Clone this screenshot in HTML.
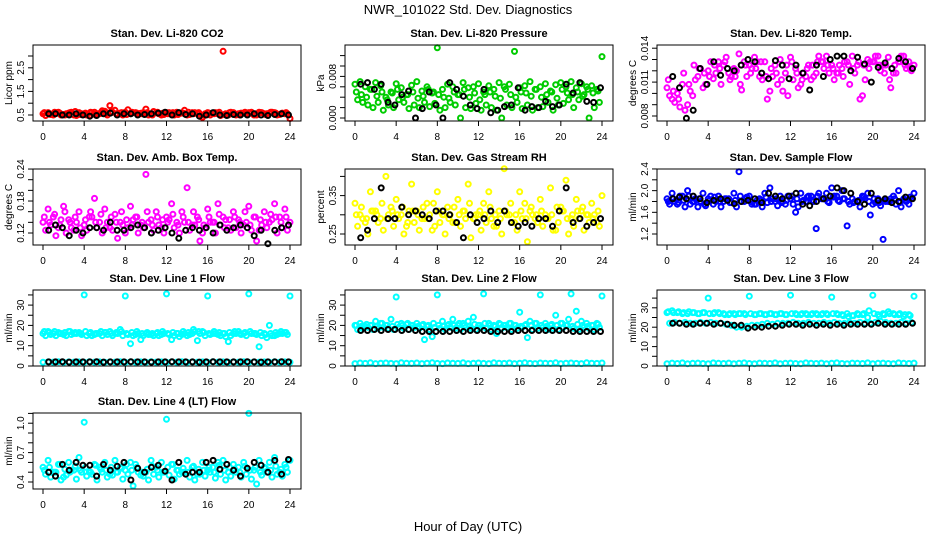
<!DOCTYPE html>
<html><head><meta charset="utf-8"><style>
body{margin:0;background:#fff;}
svg text{font-family:"Liberation Sans",sans-serif;}
</style></head><body>
<svg id="chart" width="936" height="540" viewBox="0 0 936 540" xmlns="http://www.w3.org/2000/svg">
<rect x="0" y="0" width="936" height="540" fill="#fff"/>
<text x="468" y="14" font-size="13" text-anchor="middle">NWR_101022  Std. Dev. Diagnostics</text>
<text x="468" y="531" font-size="13" text-anchor="middle">Hour of Day (UTC)</text>
</svg>
<script>
// ---- data (time derived from index) ----
const xTicks = [0,4,8,12,16,20,24];

const co2A = [0.55,0.6,0.5,0.62,0.52,0.58,0.5,0.6,0.55,0.48,0.62,0.55,0.66,0.9,0.7,0.58,0.62,0.55,0.6,0.57,0.75,0.52,0.6,0.5,0.6,0.55,0.62,0.58,0.5,0.6,0.55,0.4,0.6,0.58,0.55,3.2,0.5,0.6,0.55,0.58,0.6,0.5,0.62,0.55,0.58,0.6,0.52,0.55,0.35];
const co2B = [0.48,0.52,0.6,0.5,0.55,0.62,0.48,0.55,0.5,0.6,0.55,0.68,0.5,0.62,0.55,0.5,0.72,0.6,0.52,0.6,0.5,0.65,0.55,0.52,0.6,0.5,0.58,0.7,0.52,0.6,0.45,0.55,0.5,0.6,0.48,0.55,0.62,0.5,0.58,0.55,0.62,0.5,0.6,0.55,0.62,0.5,0.58,0.55];
const co2C = [0.6,0.55,0.62,0.58,0.5,0.6,0.65,0.52,0.58,0.62,0.5,0.6,0.57,0.64,0.55,0.6,0.52,0.62,0.58,0.55,0.6,0.5,0.62,0.57,0.55,0.6,0.52,0.58,0.62,0.55,0.6,0.5,0.58,0.55,0.62,0.52,0.6,0.55,0.5,0.62,0.58,0.55,0.6,0.52,0.62,0.58,0.55,0.6];
const co2K = [0.55,0.55,0.5,0.5,0.55,0.5,0.45,0.48,0.55,0.58,0.5,0.55,0.55,0.5,0.52,0.55,0.58,0.62,0.5,0.6,0.52,0.55,0.45,0.5,0.6,0.5,0.48,0.52,0.5,0.5,0.55,0.5,0.48,0.52,0.55,0.5];

const presA = [.0065,.007,.006,.0055,.0068,.0062,.004,.005,.0066,.0058,.0045,.0063,.007,.0052,.006,.0048,.0135,.0055,.0065,.006,.0045,.0068,.0058,.006,.0066,.005,.0062,.0055,.0068,.006,.0065,.0128,.0058,.0062,.007,.0055,.006,.0066,.0052,.0064,.0068,.006,.007,.0058,.0066,.006,.0062,.0055,.0118];
const presB = [.0035,.003,.0025,.002,.003,.0015,.0025,.002,.0035,.003,.0018,.0025,.002,.003,.0022,.0028,.0015,.002,.003,.0025,0,.002,.0018,.0028,.0015,.0025,.002,.0015,0,.0025,.002,.003,.0018,.0025,.0015,.002,.0022,.003,.0015,.0025,.0028,.0035,.002,.0035,.0045,0,.002,.003];
const presC = [.005,.0045,.004,.0055,.0042,.005,.0035,.0048,.0055,.004,.0045,.005,.0038,.0042,.0055,.005,.0045,.004,.0038,.005,.0045,.0055,.004,.0048,.0035,.0045,.005,.0042,.0038,.0055,.0045,.004,.005,.0048,.0042,.0055,.004,.0045,.005,.0038,.0055,.0048,.0045,.005,.0042,.0055,.0048,.0052];
const presK = [.0065,.0068,.0055,.0065,.003,.0025,.0045,.0052,0,.0018,.005,.0025,0,.0068,.0055,.0042,.0025,.0018,.0055,.001,.0015,.0022,.0025,.0058,.0015,.0022,.002,.0032,.0022,.0025,.0065,.0048,.0068,.0032,.003,.0058];

const tempA = [.0105,.0095,.01,.0108,.009,.0098,.0115,.0105,.012,.0113,.0128,.0125,.0118,.0122,.0135,.0128,.0125,.0132,.0115,.0128,.0102,.0125,.013,.0118,.0132,.0122,.0108,.0115,.0112,.0118,.0128,.0133,.0125,.0118,.0122,.0128,.0133,.0125,.0098,.013,.0128,.0133,.0125,.0132,.0118,.0128,.0133,.0128,.0125];
const tempB = [.0098,.0092,.0088,.0085,.0102,.0112,.0122,.0108,.0128,.0118,.0108,.0132,.0115,.012,.0103,.0115,.0122,.0128,.0112,.0095,.0115,.0108,.0102,.0098,.0112,.0105,.0118,.0125,.0115,.0133,.0122,.0118,.0112,.0125,.0128,.0108,.0118,.0095,.0112,.0128,.0133,.012,.0125,.0105,.0118,.0133,.0122,.012];
const tempC = [.0112,.0102,.0095,.0118,.0108,.0125,.0122,.0118,.0115,.0125,.0122,.0128,.0112,.0115,.0108,.0125,.0118,.0122,.0128,.0115,.0122,.0118,.0112,.0125,.0128,.0118,.0112,.0122,.0125,.0128,.0128,.0125,.0122,.0118,.0115,.0125,.0122,.0128,.0125,.0122,.0128,.0125,.0118,.0112,.0125,.0128,.0125,.0122];
const tempK = [.0115,.0105,.0078,.0085,.0122,.0108,.0128,.0116,.0122,.012,.0125,.013,.0128,.0118,.0113,.0129,.0125,.0113,.0125,.0118,.0103,.0125,.0115,.013,.0133,.0133,.012,.0132,.0126,.011,.0123,.0127,.0122,.0131,.0128,.0122];

const boxA = [.14,.165,.15,.13,.17,.145,.125,.16,.135,.15,.185,.14,.165,.13,.155,.14,.12,.17,.15,.135,.23,.145,.16,.13,.15,.175,.14,.16,.205,.135,.15,.12,.165,.14,.175,.15,.13,.16,.145,.135,.17,.15,.125,.16,.14,.175,.15,.165,.14];
const boxB = [.125,.135,.115,.145,.12,.13,.14,.115,.125,.15,.13,.12,.14,.125,.11,.135,.13,.145,.12,.13,.14,.125,.135,.12,.145,.13,.12,.14,.125,.135,.105,.13,.14,.12,.135,.145,.125,.13,.12,.14,.125,.105,.135,.13,.145,.12,.13,.125];
const boxC = [.15,.14,.155,.135,.16,.14,.15,.13,.145,.16,.14,.155,.13,.15,.14,.16,.145,.135,.15,.14,.16,.135,.15,.145,.14,.155,.135,.15,.14,.16,.145,.135,.15,.14,.155,.13,.145,.15,.14,.16,.135,.15,.145,.14,.155,.15,.14,.15];
const boxK = [.125,.135,.13,.115,.125,.12,.13,.13,.125,.14,.125,.125,.13,.135,.13,.12,.125,.13,.12,.11,.125,.13,.125,.13,.12,.135,.125,.13,.135,.13,.115,.125,.1,.125,.13,.135];

const rhA = [.33,.3,.28,.36,.31,.29,.4,.32,.34,.3,.27,.38,.31,.29,.33,.26,.36,.3,.32,.28,.34,.31,.38,.29,.3,.33,.36,.27,.31,.42,.3,.28,.36,.33,.31,.29,.34,.3,.37,.26,.32,.39,.29,.34,.31,.3,.33,.28,.35];
const rhB = [.27,.29,.25,.31,.28,.26,.3,.27,.29,.25,.31,.28,.26,.29,.3,.27,.28,.25,.3,.28,.27,.29,.24,.3,.26,.28,.29,.27,.25,.3,.28,.26,.29,.23,.3,.28,.27,.29,.26,.28,.31,.25,.27,.29,.26,.28,.3,.27];
const rhC = [.3,.32,.29,.31,.3,.33,.29,.31,.3,.32,.28,.31,.3,.32,.29,.33,.31,.3,.29,.32,.3,.31,.33,.29,.31,.3,.32,.3,.29,.31,.33,.3,.31,.29,.32,.3,.31,.29,.3,.32,.31,.29,.3,.31,.32,.3,.29,.31];
const rhK = [.24,.26,.29,.37,.29,.29,.32,.3,.31,.3,.29,.31,.31,.3,.28,.24,.3,.28,.29,.31,.28,.31,.28,.27,.28,.27,.29,.29,.27,.31,.37,.28,.29,.27,.28,.29];

const flowA = [1.85,1.95,1.75,1.9,2.0,1.8,1.7,1.95,1.85,1.75,1.9,1.8,1.85,1.95,2.35,1.8,1.9,1.75,1.85,1.95,2.05,1.8,1.9,1.75,1.85,1.6,1.95,1.8,1.9,1.3,1.85,1.95,2.05,1.9,2.0,1.35,1.85,1.8,1.9,1.95,1.75,1.85,1.1,1.8,1.9,2.0,1.85,1.75,1.95];
const flowB = [1.75,1.8,1.9,1.7,1.75,1.85,1.8,1.72,1.9,1.8,1.7,1.85,1.78,1.7,1.8,1.88,1.75,1.82,1.7,1.78,1.85,1.72,1.8,1.9,1.75,1.7,1.82,1.9,1.8,1.95,1.85,1.78,1.9,1.8,1.85,1.75,1.8,1.7,1.85,1.55,1.78,1.72,1.8,1.85,1.75,1.7,1.8,1.85];
const flowC = [1.8,1.85,1.78,1.82,1.9,1.8,1.85,1.75,1.82,1.88,1.8,1.85,1.78,1.82,1.9,1.85,1.8,1.75,1.82,1.88,1.8,1.85,1.78,1.82,1.9,1.85,1.8,1.88,1.82,1.9,1.85,1.8,1.88,1.82,1.85,1.8,1.78,1.82,1.88,1.8,1.85,1.78,1.82,1.8,1.85,1.78,1.82,1.88];
const flowK = [1.85,1.88,1.85,1.9,1.85,1.78,1.82,1.85,1.82,1.76,1.8,1.82,1.85,1.78,1.95,1.9,1.85,1.9,1.95,1.75,1.72,1.8,1.85,1.9,2.05,2.0,1.95,1.8,1.75,1.95,1.82,1.85,1.78,1.8,1.88,1.85];

const l1A = [16,17,16,16.5,15.5,17,16,16.5,35,16,15.5,16,16.5,17,16,18,34.5,11,15.5,13,16,15.5,16,15.5,35.5,13,16,15.5,15,16,12.5,17,34.5,16,15.5,16,12,16,17,16,35.5,16,9.5,16,20,15,16,16.5,34.5];
const l1B = [15,15.5,15,16,15,15.5,16,15.5,15,15,16,15,15.5,15,16,15,15.5,15,16,15,15.5,15,15,16,15.5,15,14.5,16,15.5,17,16,15,15.5,16,15,14.5,15,16,15.5,15,16,15.5,15,14,15,15.5,16,15.5];
const l1C = [17,16.5,17,16,16.5,17,16.5,16,17,16.5,16,17,16.5,16,16.5,17,16,16.5,17,16,16.5,16,16.5,17,16,16.5,16,17,16.5,18,17,16.5,16,17,16.5,16,16.5,17,16,16.5,17,16,16.5,15.5,16,16.5,17,16.5];
const l1L = [1.8,2,1.9,2.1,1.8,2,1.9,2,1.8,2.1,1.9,2,1.8,2,1.9,2.1,1.8,2,1.9,2,1.8,2.1,1.9,2,1.8,2,1.9,2.1,1.8,2,1.9,2,1.8,2.1,1.9,2,1.8,2,1.9,2.1,1.8,2,1.9,2,1.8,2.1,1.9,2,1.8];
const l1K = [2,2,2.1,1.9,2,2,2,2.1,1.9,2,2,2,2.1,2,2,1.9,2,2,2.1,2,2,2,1.9,2,2.1,2,2,2,2,2.1,2,1.9,2,2,2.1,2];

const l2A = [20,21,19.5,20,22,21,20,23,34,21,20.5,20,21,20,19.5,14.5,35,22,20,23,20,21,22,24,20,35.5,21,20,21,20,21,20,26.5,20,22,21,35,21,20,25,21,20,35.5,27,22,21,20,21,34.5];
const l2B = [18,18.5,19,18,18.5,19,18.5,18,19,18.5,18,19,18.5,13,18,19,18.5,18,19,18.5,18,19,18.5,18,19,18.5,18,16,18.5,19,18,18.5,19,14,18,18.5,19,18,18.5,18,19,23,18.5,18,19,18.5,18,19];
const l2C = [20,19.5,20.5,20,19.5,21,20,19.5,20.5,20,21,20,19.5,20.5,20,21,20,19.5,20.5,20,21,20,19.5,20.5,20,21,20,19.5,20.5,20,21,20,19.5,20.5,20,21,20,19.5,20.5,20,21,20,19.5,20.5,20,19.5,20,20.5];
const l2L = [1.2,1.5,1.3,1.6,1.2,1.4,1.5,1.3,1.2,1.6,1.4,1.3,1.5,1.2,1.4,1.6,1.3,1.2,1.5,1.4,1.3,1.6,1.2,1.4,1.5,1.3,1.2,1.6,1.4,1.3,1.5,1.2,1.4,1.6,1.3,1.2,1.5,1.4,1.3,1.6,1.2,1.4,1.5,1.3,1.2,1.6,1.4,1.3,1.5];
const l2K = [17.5,17.5,18,17.5,18,18,17.5,18,17.5,17,17,17,17,17,17.5,17,17.5,17.5,17.5,17,17,17,17,17.5,17.5,17.5,17.5,17.5,17.5,17.5,17.5,17,17,17,17,17];

const l3A = [27.5,28.5,27.5,27,27,27.5,27,27.5,35,27,27.5,27,26.5,27,27,27,36,26.5,27,26.5,27,26.5,27,26.5,36.5,27,26.5,27,26.5,27,26.5,27,35.5,27,26.5,27,26,27,26.5,25,36.5,26.5,27,28,27,26.5,25.5,26.5,36];
const l3B = [22,22.5,22,22.5,22,22,22.5,22,22.5,22,22,21.5,21,20,20,20.5,21,21,21.5,22,21.5,22,22,22,22.5,22,22,22.5,22,22,22.5,22,22.5,22,22,22.5,22,22.5,22,22,22.5,23,22.5,22,22,22.5,22,22.5];
const l3C = [28,27.5,28,27.5,28,27.5,27,27.5,27,27.5,27,26.5,27,26.5,27,26.5,27,26.5,27,26.5,27,26.5,27,26.5,27,26.5,27,26.5,27,26.5,27,26.5,27,26.5,26,25.5,26,26.5,27,28.5,27,25.5,26.5,27,26.5,27,26.5,26];
const l3L = [1.2,1.5,1.3,1.6,1.2,1.4,1.5,1.3,1.2,1.6,1.4,1.3,1.5,1.2,1.4,1.6,1.3,1.2,1.5,1.4,1.3,1.6,1.2,1.4,1.5,1.3,1.2,1.6,1.4,1.3,1.5,1.2,1.4,1.6,1.3,1.2,1.5,1.4,1.3,1.6,1.2,1.4,1.5,1.3,1.2,1.6,1.4,1.3,1.5];
const l3K = [22,22,21.5,21.5,22,22,21.5,22,21.5,21,21,19.5,20,20,20.5,20.5,21,21.5,21.5,21,21.5,21,21.5,21,21.5,21,21.5,21.5,21.5,21.5,22,21.5,21.5,21.5,21.5,22];

const l4A = [.55,.62,.5,.58,.45,.6,.52,.65,1.01,.5,.58,.55,.6,.48,.62,.55,.52,.6,.58,.47,.5,.62,.55,.6,1.04,.58,.52,.5,.62,.55,.48,.6,.52,.55,.6,.62,.5,.58,.55,.6,1.1,.52,.62,.55,.6,.65,.5,.58,.62];
const l4B = [.48,.45,.5,.42,.47,.52,.43,.5,.46,.48,.42,.5,.45,.47,.5,.43,.48,.36,.5,.46,.42,.48,.45,.5,.47,.43,.48,.5,.45,.42,.48,.46,.5,.44,.48,.42,.46,.5,.45,.48,.43,.38,.47,.5,.45,.48,.46,.5];
const l4C = [.52,.55,.5,.58,.53,.5,.56,.52,.55,.5,.57,.53,.52,.55,.5,.54,.58,.52,.55,.5,.53,.56,.52,.5,.55,.58,.52,.54,.5,.56,.53,.52,.55,.5,.57,.52,.55,.53,.5,.56,.52,.55,.5,.54,.52,.56,.53,.55];
const l4K = [.5,.46,.58,.52,.6,.57,.57,.46,.58,.52,.56,.6,.42,.54,.5,.55,.57,.51,.42,.6,.48,.5,.5,.6,.62,.53,.58,.52,.46,.54,.6,.57,.5,.62,.48,.63];

const tick1=[0.5,1,1.5,2,2.5,3], lab1=["0.5","1.5","2.5"];
const tick2=[0,.002,.004,.006,.008,.010,.012], lab2=["0.000","0.008"];
const tick3=[.008,.009,.010,.011,.012,.013,.014], lab3=["0.008","0.011","0.014"];
const tick4=[.12,.14,.16,.18,.20,.22,.24], lab4=["0.12","0.18","0.24"];
const tick5=[.25,.30,.35,.40], lab5=["0.25","0.35"];
const tick6=[1.2,1.4,1.6,1.8,2.0,2.2,2.4], lab6=["1.2","1.6","2.0","2.4"];
const tick7=[0,5,10,15,20,25,30,35], lab7=["0","10","20","30"];
const tick10=[.4,.5,.6,.7,.8,.9,1.0,1.1], lab10=["0.4","0.7","1.0"];

// ---- layout ----
const NS="http://www.w3.org/2000/svg";
const svg=document.getElementById('chart');
function mk(tag,attrs,parent){const e=document.createElementNS(NS,tag);for(const k in attrs)e.setAttribute(k,attrs[k]);(parent||svg).appendChild(e);return e;}

const panels=[
 {name:'co2',title:'Stan. Dev. Li-820 CO2',yl:'Licor ppm',c:0,r:0,v0:0.5,off:70,k:23.6,ticks:tick1,labs:lab1,col:'#ff0000',A:co2A,B:co2B,C:co2C,L:null,K:co2K},
 {name:'pressure',title:'Stan. Dev. Li-820 Pressure',yl:'kPa',c:1,r:0,v0:0,off:73,k:5200,ticks:tick2,labs:lab2,col:'#00cc00',A:presA,B:presB,C:presC,L:null,K:presK},
 {name:'licor-temp',title:'Stan. Dev. Li-820 Temp.',yl:'degrees C',c:2,r:0,v0:.008,off:71,k:11300,ticks:tick3,labs:lab3,col:'#ff00ff',A:tempA,B:tempB,C:tempC,L:null,K:tempK},
 {name:'amb-box-temp',title:'Stan. Dev. Amb. Box Temp.',yl:'degrees C',c:0,r:1,v0:.12,off:64,k:533,ticks:tick4,labs:lab4,col:'#ff00ff',A:boxA,B:boxB,C:boxC,L:null,K:boxK},
 {name:'gas-rh',title:'Stan. Dev. Gas Stream RH',yl:'percent',c:1,r:1,v0:.25,off:65,k:384,ticks:tick5,labs:lab5,col:'#ffff00',A:rhA,B:rhB,C:rhC,L:null,K:rhK},
 {name:'sample-flow',title:'Stan. Dev. Sample Flow',yl:'ml/min',c:2,r:1,v0:1.2,off:65,k:54.2,ticks:tick6,labs:lab6,col:'#0000ff',A:flowA,B:flowB,C:flowC,L:null,K:flowK},
 {name:'line1-flow',title:'Stan. Dev. Line 1 Flow',yl:'ml/min',c:0,r:2,v0:0,off:76,k:2.03,ticks:tick7,labs:lab7,col:'#00ffff',A:l1A,B:l1B,C:l1C,L:l1L,K:l1K},
 {name:'line2-flow',title:'Stan. Dev. Line 2 Flow',yl:'ml/min',c:1,r:2,v0:0,off:76,k:2.03,ticks:tick7,labs:lab7,col:'#00ffff',A:l2A,B:l2B,C:l2C,L:l2L,K:l2K},
 {name:'line3-flow',title:'Stan. Dev. Line 3 Flow',yl:'ml/min',c:2,r:2,v0:0,off:76,k:1.94,ticks:tick7,labs:lab7,col:'#00ffff',A:l3A,B:l3B,C:l3C,L:l3L,K:l3K},
 {name:'line4-flow',title:'Stan. Dev. Line 4 (LT) Flow',yl:'ml/min',c:0,r:3,v0:.4,off:69,k:98,ticks:tick10,labs:lab10,col:'#00ffff',A:l4A,B:l4B,C:l4C,L:null,K:l4K}
];
const rowTops=[45,169,290,413];

panels.forEach(p=>{
  const ox=p.c*312, top=rowTops[p.r], bot=top+76, left=ox+33, right=ox+301;
  const X=t=>ox+43+t*(247/24);
  const Y=v=>top+p.off-(v-p.v0)*p.k;
  const g=mk('g',{});
  
  
  const t=mk('text',{x:ox+167,y:top-8,'font-size':11,'font-weight':'bold','text-anchor':'middle'},g);
  t.textContent=p.title;
  
  
  const yt=mk('text',{x:0,y:0,'font-size':10,'text-anchor':'middle',transform:`translate(${ox+12},${top+38}) rotate(-90)`},g);
  yt.textContent=p.yl;
  
  
  const pts=mk('g',{fill:'none','stroke-width':2},g);
  
  
  const drawSeries=(arr,start,span,color,nm)=>{
    if(!arr)return;
    arr.forEach((v,i)=>{
      const tt=start+i*span/(arr.length-1);
      const c=mk('circle',{cx:X(tt).toFixed(1),cy:Y(v).toFixed(1),r:2.5,stroke:color},pts);
      
      
    });
  };
  drawSeries(p.L,0,24,p.col,p.name+'-low-point');
  drawSeries(p.B,0.25,23.5,p.col,p.name+'-point');
  drawSeries(p.C,0.125,23.5,p.col,p.name+'-point');
  drawSeries(p.A,0,24,p.col,p.name+'-point');
  drawSeries(p.K,0.55,23.3,'#000000',p.name+'-mean-point');
  const b=mk('rect',{x:left,y:top,width:right-left,height:bot-top,fill:'none',stroke:'#000','stroke-width':1},g);
  
  
  mk('line',{x1:X(0),x2:X(24),y1:bot,y2:bot,stroke:'#000'},g);
  xTicks.forEach(v=>{
    mk('line',{x1:X(v),x2:X(v),y1:bot,y2:bot+5,stroke:'#000'},g);
    const l=mk('text',{x:X(v),y:bot+19,'font-size':10,'text-anchor':'middle'},g);
    l.textContent=String(v);
    
    
  });
  p.ticks.forEach(v=>{
    mk('line',{x1:left-5,x2:left,y1:Y(v),y2:Y(v),stroke:'#000'},g);
  });
  p.labs.forEach(s=>{
    const v=parseFloat(s);
    const l=mk('text',{x:0,y:0,'font-size':10,'text-anchor':'middle',transform:`translate(${left-9},${Y(v)}) rotate(-90)`},g);
    l.textContent=s;
    
    
  });
});
</script>
</body></html>
